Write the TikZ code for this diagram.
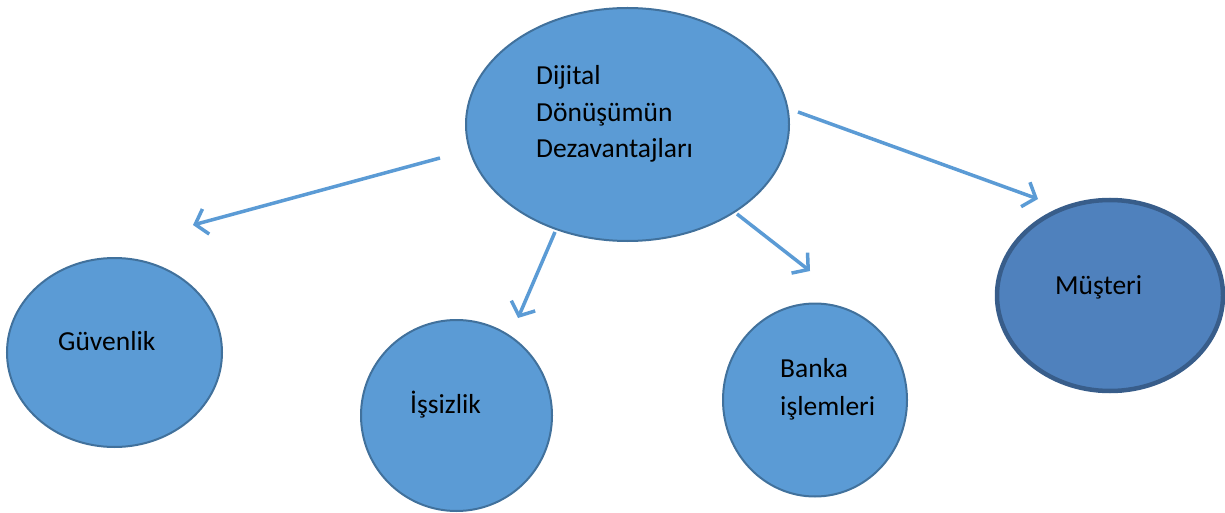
\documentclass[tikz,border=0pt]{standalone}
\usepackage{fontspec}
\setmainfont{Carlito}
\usetikzlibrary{shapes.geometric,arrows.meta}
\definecolor{bubfill}{HTML}{5B9BD5}
\definecolor{bubline}{HTML}{41719C}
\definecolor{darkfill}{HTML}{4F81BD}
\definecolor{darkline}{HTML}{385D8A}
\definecolor{arrowcol}{HTML}{5B9BD5}
\begin{document}
\begin{tikzpicture}[x=1pt,y=-1pt,
  bubble/.style={ellipse,draw=bubline,fill=bubfill,line width=2pt,inner sep=0pt},
  darkbubble/.style={ellipse,draw=darkline,fill=darkfill,line width=4.5pt,inner sep=0pt},
  lbl/.style={anchor=base west,inner sep=0pt,font=\fontsize{27.5}{36}\selectfont},
  conn/.style={draw=arrowcol,line width=3.5pt,-{Straight Barb[length=11pt,width=26pt,line width=3.5pt]}}]
\useasboundingbox (0,0) rectangle (1225,513);
% ellipses
\node[bubble,minimum width=323pt,minimum height=233pt] (main) at (627.5,124.5) {};
\node[bubble,minimum width=215pt,minimum height=189pt] (guv) at (114.5,352.5) {};
\node[bubble,minimum width=191pt,minimum height=191pt] (iss) at (456.5,415.5) {};
\node[bubble,minimum width=184pt,minimum height=193pt] (ban) at (815,400) {};
\node[darkbubble,minimum width=226pt,minimum height=191pt] (mus) at (1110,295.5) {};
% labels
\node[lbl] (t1) at (536,85) {Dijital};
\node[lbl] (t2) at (536,122) {Dönüşümün};
\node[lbl] (t3) at (536,158) {Dezavantajları};
\node[lbl] (tg) at (58,350) {Güvenlik};
\node[lbl] (ti) at (410,413) {İşsizlik};
\node[lbl] (tb1) at (780,377) {Banka};
\node[lbl] (tb2) at (780,415) {işlemleri};
\node[lbl] (tm) at (1055,294) {Müşteri};
% connector end points
\coordinate (a1s) at (440,158);
\coordinate (a1e) at (193,225);
\coordinate (a2s) at (555,232);
\coordinate (a2e) at (518,318);
\coordinate (a3s) at (737,214);
\coordinate (a3e) at (810,271);
\coordinate (a4s) at (798,112);
\coordinate (a4e) at (1038,199);
\draw[conn] (a1s) -- (a1e);
\draw[conn] (a2s) -- (a2e);
\draw[conn] (a3s) -- (a3e);
\draw[conn] (a4s) -- (a4e);
\end{tikzpicture}
\end{document}
